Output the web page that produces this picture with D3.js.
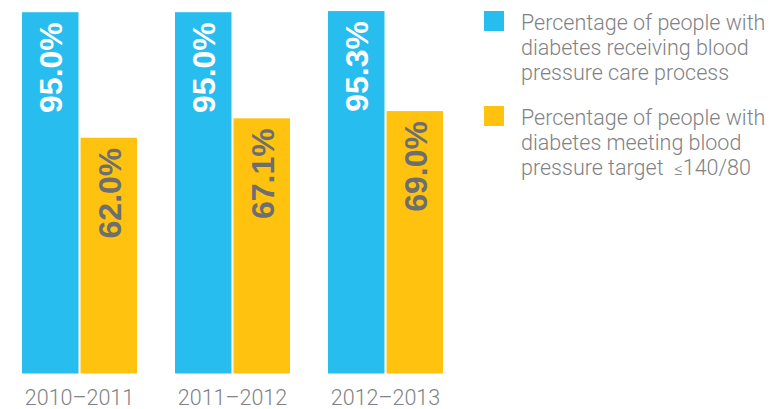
<!DOCTYPE html>
<html><head><meta charset="utf-8">
<script src="https://cdn.jsdelivr.net/npm/d3@7"></script>
<style>
html,body{margin:0;padding:0;background:#fff;}
svg{display:block;}
</style></head>
<body>
<div id="chart"></div>
<script>
const categories = ["2010–2011", "2011–2012", "2012–2013"];
const seriesKeys = ["care", "target"];
const careProcess = [95.0, 95.0, 95.3];
const meetingTarget = [62.0, 67.1, 69.0];
const legendCare = ["Percentage of people with", "diabetes receiving blood", "pressure care process"];
const legendTarget = ["Percentage of people with", "diabetes meeting blood", "pressure target  "];
const legendTargetSuffix = ["≤", "140/80"];

const W = 783, H = 409;
const colors = {care: "#27bdef", target: "#fec20f"};
const labelColors = {care: "#ffffff", target: "#6d6e71"};
const textGrey = "#808285";

const svg = d3.select("#chart").append("svg").attr("width", W).attr("height", H);

const x0 = d3.scaleBand().domain(categories).range([22, 443]).paddingInner(38/153).paddingOuter(0);
const x1 = d3.scaleBand().domain(seriesKeys).range([0, x0.bandwidth()]).paddingInner(4/115);
const y = d3.scaleLinear().domain([0, 100]).range([373.5, -6.8]);

const data = categories.map((c, i) => ({cat: c, values: [
  {key: "care", v: careProcess[i]},
  {key: "target", v: meetingTarget[i]}
]}));

const g = svg.selectAll("g.grp").data(data).enter().append("g")
  .attr("class", "grp").attr("transform", d => `translate(${x0(d.cat)},0)`);

g.selectAll("rect").data(d => d.values).enter().append("rect")
  .attr("x", d => x1(d.key)).attr("y", d => y(d.v))
  .attr("width", x1.bandwidth()).attr("height", d => y(0) - y(d.v))
  .attr("fill", d => colors[d.key]);

g.selectAll("text.val").data(d => d.values).enter().append("text")
  .attr("class", "val")
  .attr("transform", d => `translate(${x1(d.key) + x1.bandwidth()/2 + 1},${y(d.v) + 10}) rotate(-90)`)
  .attr("text-anchor", "end").attr("dominant-baseline", "central")
  .attr("font-family", "'Liberation Sans', Arial, sans-serif").attr("font-weight", "bold")
  .attr("font-size", 32).attr("fill", d => labelColors[d.key])
  .text(d => d.v.toFixed(1) + "%");

// x axis labels
const xAxis = d3.axisBottom(x0).tickSize(0).tickPadding(0);
const ax = svg.append("g").attr("transform", `translate(0,${y(0)})`).call(xAxis);
ax.select(".domain").remove();
ax.selectAll("text").attr("dy", null).attr("y", 31)
  .attr("font-family", "Roboto, 'Liberation Sans', sans-serif").attr("font-weight", 300)
  .attr("font-size", 21.5).attr("fill", textGrey);

// legend
const legend = svg.append("g");
const items = [
  {key: "care", lines: legendCare, top: 11},
  {key: "target", lines: legendTarget, top: 106}
];
items.forEach(it => {
  legend.append("rect").attr("x", 484).attr("y", it.top).attr("width", 20).attr("height", 20).attr("fill", colors[it.key]);
  const t = legend.append("text").attr("font-family", "Roboto, 'Liberation Sans', sans-serif")
    .attr("font-weight", 300).attr("font-size", 21.5).attr("fill", textGrey);
  it.lines.forEach((l, i) => {
    const ts = t.append("tspan").attr("x", 521).attr("y", it.top + 19 + i * 25).text(l);
    if (it.key === "target" && i === 2) {
      ts.attr("xml:space", "preserve");
      t.append("tspan").attr("font-size", 17).text(legendTargetSuffix[0]);
      t.append("tspan").attr("font-size", 21.5).text(legendTargetSuffix[1]);
    }
  });
});
</script>
</body></html>
